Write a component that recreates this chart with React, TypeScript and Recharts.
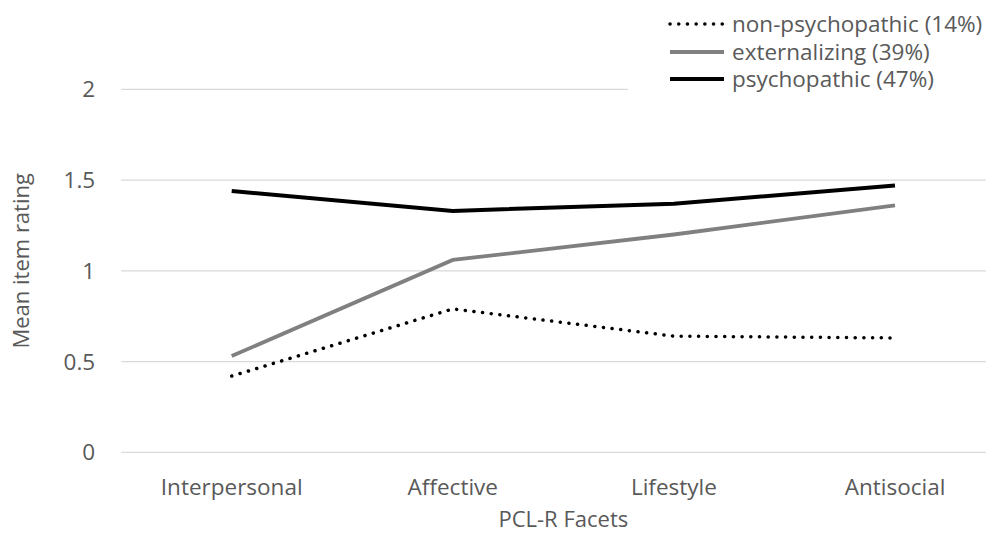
import React from 'react'
import { LineChart, Line, XAxis, YAxis, CartesianGrid, Legend, Label } from 'recharts'

const facets = ['Interpersonal', 'Affective', 'Lifestyle', 'Antisocial']
const nonPsychopathic = [0.42, 0.79, 0.64, 0.63]
const externalizing = [0.53, 1.06, 1.2, 1.36]
const psychopathic = [1.44, 1.33, 1.37, 1.47]
const yTicks = [0, 0.5, 1, 1.5, 2]

const data = facets.map((facet, i) => ({
  facet,
  nonPsychopathic: nonPsychopathic[i],
  externalizing: externalizing[i],
  psychopathic: psychopathic[i],
}))

const FONT = '"Open Sans", sans-serif'
const TEXT = '#595959'

const series = [
  { key: 'nonPsychopathic', name: 'non-psychopathic (14%)', color: '#000000', dash: '0.1 8.6', width: 3.5 },
  { key: 'externalizing', name: 'externalizing (39%)', color: '#808080', dash: undefined, width: 3.8 },
  { key: 'psychopathic', name: 'psychopathic (47%)', color: '#000000', dash: undefined, width: 4 },
]

function renderLegend() {
  return (
    <div style={{ position: 'relative', width: '100%', height: '100%' }}>
      {series.map((s, i) => (
        <div
          key={s.key}
          style={{
            position: 'absolute',
            left: 40,
            top: 3 + i * 27.5,
            height: 26,
            display: 'flex',
            alignItems: 'center',
            whiteSpace: 'nowrap',
          }}
        >
          <svg width={58} height={10} style={{ marginRight: 6 }}>
            <line
              x1={2}
              y1={5}
              x2={56}
              y2={5}
              stroke={s.color}
              strokeWidth={s.width}
              strokeDasharray={s.dash}
              strokeLinecap={s.dash ? 'round' : 'butt'}
            />
          </svg>
          <span style={{ fontFamily: FONT, fontSize: 22.5, lineHeight: '26px', color: TEXT }}>{s.name}</span>
        </div>
      ))}
    </div>
  )
}

export default function App() {
  return (
    <div style={{ width: 994, height: 529, marginLeft: -8, overflow: 'hidden', fontFamily: FONT }}>
      <LineChart width={1008} height={529} data={data} margin={{ top: 81.3, right: 2.5, bottom: 0, left: 8 }}>
        <CartesianGrid vertical={false} stroke="#d9d9d9" strokeWidth={1.3} />
        <XAxis
          dataKey="facet"
          axisLine={false}
          tickLine={false}
          tickSize={0}
          tickMargin={27}
          height={84.7}
          padding={{ left: 110.5, right: 110.5 }}
          tick={{ fill: TEXT, fontSize: 22.5, fontFamily: FONT }}
        >
          <Label value="PCL-R Facets" position="insideBottom" offset={10.3} style={{ fill: TEXT, fontSize: 22, fontFamily: FONT }} />
        </XAxis>
        <YAxis
          type="number"
          domain={[0, 2]}
          ticks={yTicks}
          width={113.2}
          axisLine={false}
          tickLine={false}
          tickSize={0}
          tickMargin={26}
          tick={{ fill: TEXT, fontSize: 22.5, fontFamily: FONT }}
        >
          <Label value="Mean item rating" position="center" angle={-90} dx={-43.5} dy={-10} style={{ fill: TEXT, fontSize: 22, fontFamily: FONT }} />
        </YAxis>
        <Legend
          layout="horizontal"
          verticalAlign="middle"
          align="center"
          wrapperStyle={{ top: 0, left: 628, width: 380, height: 94, backgroundColor: '#ffffff' }}
          content={renderLegend}
        />
        {series.map((s) => (
          <Line
            key={s.key}
            type="linear"
            dataKey={s.key}
            name={s.name}
            stroke={s.color}
            strokeWidth={s.width}
            strokeDasharray={s.dash}
            strokeLinecap={s.dash ? 'round' : 'butt'}
            dot={false}
            activeDot={false}
            isAnimationActive={false}
          />
        ))}
      </LineChart>
    </div>
  )
}
